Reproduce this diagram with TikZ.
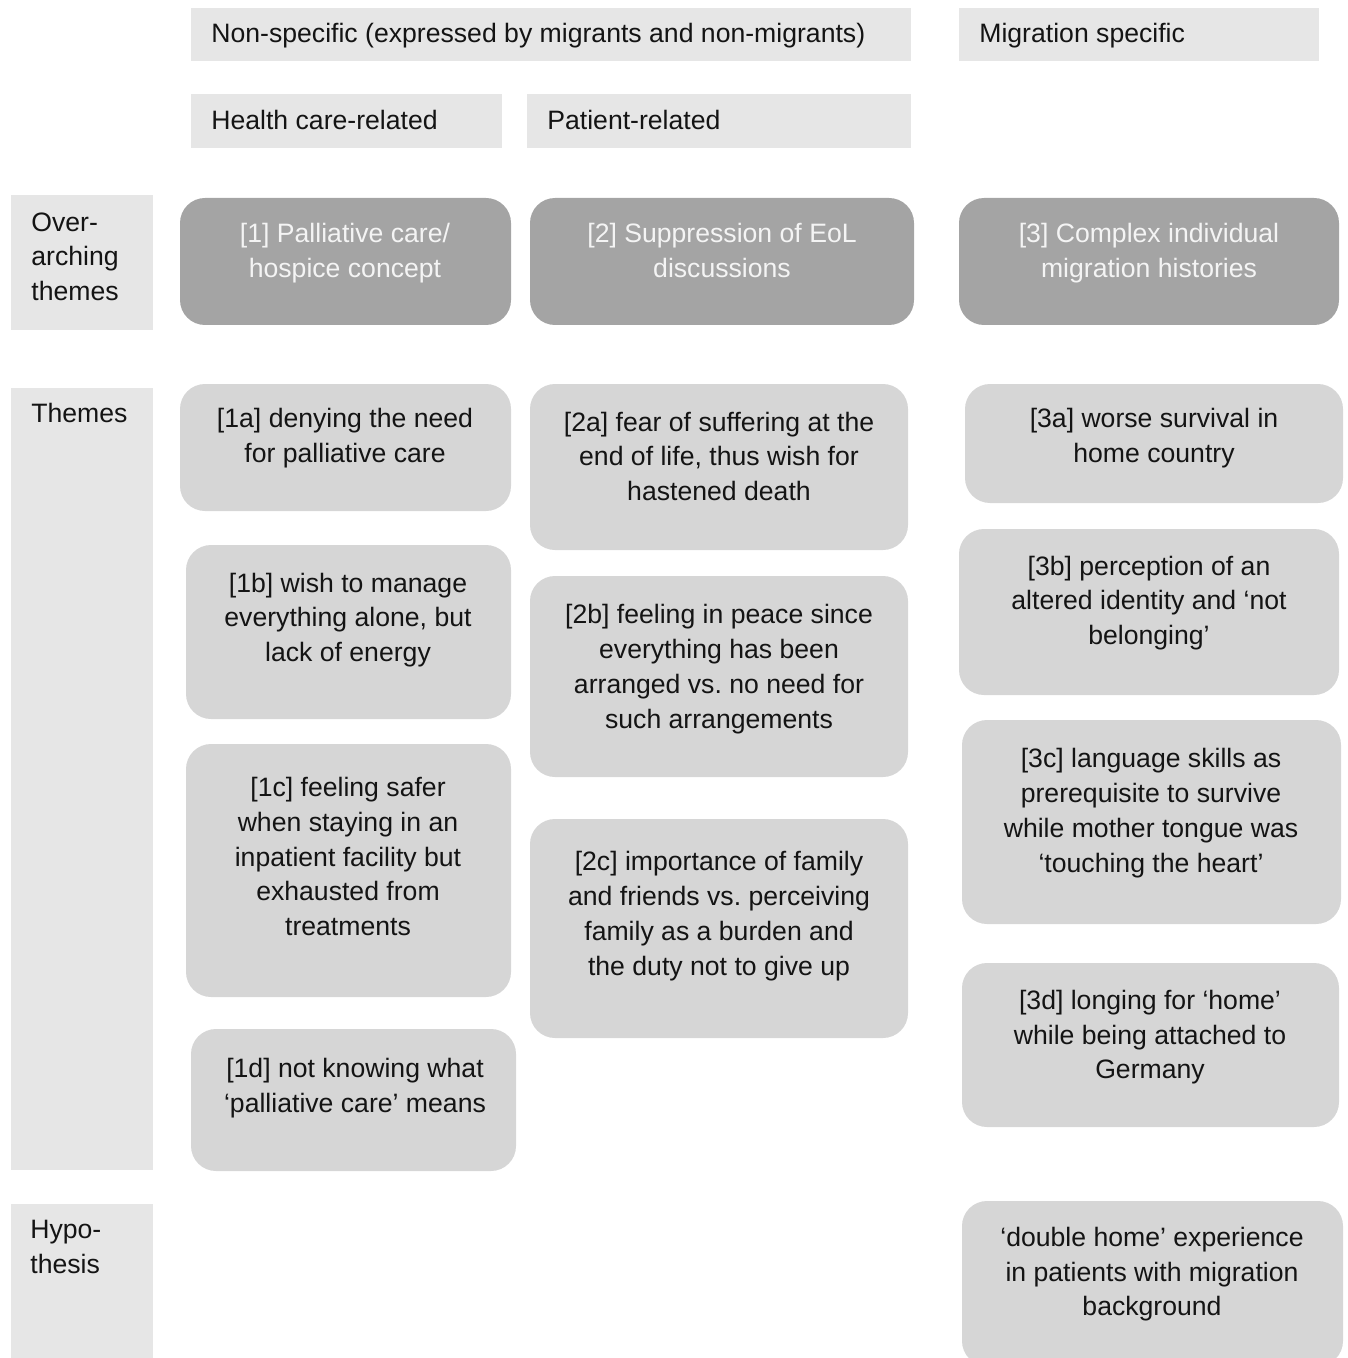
\documentclass[tikz,border=0pt]{standalone}
\usepackage{fontspec}
\setmainfont{Liberation Sans}
\frenchspacing
\definecolor{lblgray}{HTML}{E6E6E6}
\definecolor{themegray}{HTML}{D6D6D6}
\definecolor{overgray}{HTML}{A4A4A4}
\definecolor{overtext}{HTML}{F4F4F4}
\definecolor{txt}{HTML}{141414}
\begin{document}
\begin{tikzpicture}[x=0.02cm,y=-0.02cm,
  every node/.style={font=\fontsize{15.15}{19.9}\selectfont\frenchspacing, text=txt, inner sep=0pt},
  lblbox/.style={fill=lblgray},
  thbox/.style={fill=themegray, rounded corners=0.5cm},
  ovbox/.style={fill=overgray, rounded corners=0.5cm},
  ltxt/.style={anchor=west, align=left},
  ctxt/.style={align=center},
  otxt/.style={align=center, text=overtext}]
\useasboundingbox (0,0) rectangle (1347,1358);
\begin{scope}
\clip (0,0) rectangle (1347,1358);
% header boxes
\fill[lblbox] (191,8) rectangle (911,61);
\fill[lblbox] (959,8) rectangle (1319,61);
\fill[lblbox] (191,94) rectangle (502,148);
\fill[lblbox] (527,94) rectangle (911,148);
% left label column
\fill[lblbox] (11,195) rectangle (153,330);
\fill[lblbox] (11,388) rectangle (153,1170);
\fill[lblbox] (11,1204) rectangle (153,1370);
% overarching
\fill[ovbox] (180,198) rectangle (511,325);
\fill[ovbox] (530,198) rectangle (914,325);
\fill[ovbox] (959,198) rectangle (1339,325);
% themes
\fill[thbox] (180,384) rectangle (511,511);
\fill[thbox] (186,545) rectangle (511,719);
\fill[thbox] (186,744) rectangle (511,997);
\fill[thbox] (191,1029) rectangle (516,1171);
\fill[thbox] (530,384) rectangle (908,550);
\fill[thbox] (530,576) rectangle (908,777);
\fill[thbox] (530,819) rectangle (908,1038);
\fill[thbox] (965,384) rectangle (1343,503);
\fill[thbox] (959,529) rectangle (1339,695);
\fill[thbox] (962,720) rectangle (1341,924);
\fill[thbox] (962,963) rectangle (1339,1127);
\fill[thbox] (962,1201) rectangle (1343,1366);
\end{scope}
% header texts
\node[ltxt] (hnon) at (211,36) {\strut Non-specific (expressed by migrants and non-migrants)};
\node[ltxt] (hmig) at (979,36) {\strut Migration specific};
\node[ltxt] (hhc) at (211,123) {\strut Health care-related};
\node[ltxt] (hpat) at (547,123) {\strut Patient-related};
% left labels
\node[ltxt] (lover) at (31,259) {\strut Over-\\arching\\themes\strut};
\node[ltxt] (lthemes) at (31,416) {\strut Themes};
\node[ltxt] (lhyp) at (30,1249) {\strut Hypo-\\thesis\strut};
% overarching texts
\node[otxt] (o1) at (345,253) {\strut [1] Palliative care/\\hospice concept\strut};
\node[otxt] (o2) at (722,253) {\strut [2] Suppression of EoL\\discussions\strut};
\node[otxt] (o3) at (1149,253) {\strut [3] Complex individual\\migration histories\strut};
% theme texts
\node[ctxt] (t1a) at (345,438) {\strut [1a] denying the need\\for palliative care\strut};
\node[ctxt] (t1b) at (348,620) {\strut [1b] wish to manage\\everything alone, but\\lack of energy\strut};
\node[ctxt] (t1c) at (348,859) {\strut [1c] feeling safer\\when staying in an\\inpatient facility but\\exhausted from\\treatments\strut};
\node[ctxt] (t1d) at (355,1088) {\strut [1d] not knowing what\\‘palliative care’ means\strut};
\node[ctxt] (t2a) at (719,459) {\strut [2a] fear of suffering at the\\end of life, thus wish for\\hastened death\strut};
\node[ctxt] (t2b) at (719,669) {\strut [2b] feeling in peace since\\everything has been\\arranged vs. no need for\\such arrangements\strut};
\node[ctxt] (t2c) at (719,916) {\strut [2c] importance of family\\and friends vs. perceiving\\family as a burden and\\the duty not to give up\strut};
\node[ctxt] (t3a) at (1154,438) {\strut [3a] worse survival in\\home country\strut};
\node[ctxt] (t3b) at (1149,603) {\strut [3b] perception of an\\altered identity and ‘not\\belonging’\strut};
\node[ctxt] (t3c) at (1151,813) {\strut [3c] language skills as\\prerequisite to survive\\while mother tongue was\\‘touching the heart’\strut};
\node[ctxt] (t3d) at (1150,1037) {\strut [3d] longing for ‘home’\\while being attached to\\Germany\strut};
\node[ctxt] (hyp) at (1152,1274) {\strut ‘double home’ experience\\in patients with migration\\background\strut};
\end{tikzpicture}
\end{document}
